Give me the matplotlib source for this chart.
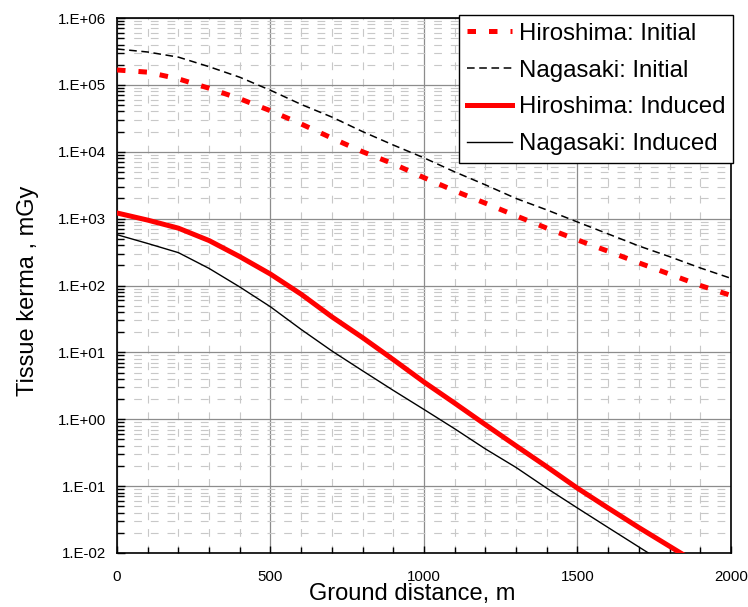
import matplotlib
matplotlib.use("Agg")
import math
import matplotlib.pyplot as plt
from matplotlib.ticker import LogLocator, MultipleLocator, FuncFormatter, NullFormatter

plt.rcParams['font.family'] = ['Liberation Sans', 'DejaVu Sans']

# ground distance, m
distance = [0, 100, 200, 300, 400, 500, 600, 700, 800, 900, 1000,
            1100, 1200, 1300, 1400, 1500, 1600, 1700, 1800, 1900, 2000]

# tissue kerma, mGy
hiroshima_initial = [1.67e5, 1.55e5, 1.23e5, 8.9e4, 6.2e4, 4.1e4, 2.6e4, 1.6e4, 1.0e4, 6.6e3, 4.1e3,
                     2.6e3, 1.7e3, 1.1e3, 720, 480, 325, 218, 148, 100, 71]
nagasaki_initial = [3.44e5, 3.1e5, 2.6e5, 1.87e5, 1.3e5, 8.3e4, 5.1e4, 3.3e4, 2.0e4, 1.26e4, 8.1e3,
                    5.0e3, 3.2e3, 2.0e3, 1.35e3, 890, 590, 390, 270, 183, 128]
hiroshima_induced = [1215, 950, 720, 470, 270, 148, 74, 34, 16.6, 7.8, 3.6,
                     1.74, 0.83, 0.40, 0.195, 0.093, 0.047, 0.024, 0.0126, 0.0066, 0.0035]
nagasaki_induced = [575, 425, 310, 180, 95, 48, 22, 10.5, 5.3, 2.7, 1.4,
                    0.72, 0.36, 0.19, 0.093, 0.047, 0.024, 0.0123, 0.0063, 0.0032, 0.0016]

fig = plt.figure(figsize=(7.48, 6.07), dpi=100)
ax = fig.add_axes([117/748, 54/607, 614/748, 535/607])

ax.plot(distance, hiroshima_initial, color='red', lw=3.6, linestyle=(0, (1.7, 2.6)),
        label="Hiroshima: Initial", zorder=4)
ax.plot(distance, nagasaki_initial, color='black', lw=1.1, linestyle=(0, (5, 3)),
        label="Nagasaki: Initial", zorder=4)
ax.plot(distance, hiroshima_induced, color='red', lw=3.6, label="Hiroshima: Induced", zorder=4)
ax.plot(distance, nagasaki_induced, color='black', lw=1.0, label="Nagasaki: Induced", zorder=4)

ax.set_yscale('log')
ax.set_xlim(0, 2000)
ax.set_ylim(1e-2, 1e6)

ax.xaxis.set_major_locator(MultipleLocator(500))
ax.xaxis.set_minor_locator(MultipleLocator(100))
ax.yaxis.set_major_locator(LogLocator(base=10, numticks=20))
ax.yaxis.set_minor_locator(LogLocator(base=10, subs=range(2, 10), numticks=100))
ax.yaxis.set_minor_formatter(NullFormatter())

def fmt_exp(v, pos):
    e = int(round(math.log10(v)))
    return "1.E%+03d" % e

ax.yaxis.set_major_formatter(FuncFormatter(fmt_exp))

ax.grid(which='major', color='#8c8c8c', lw=0.9, linestyle='-')
ax.grid(which='minor', color='#c8c8c8', lw=0.8, linestyle=(0, (7, 8)))
ax.set_axisbelow(True)

ax.tick_params(which='both', direction='in', labelsize=10.8, top=False, right=False)
ax.tick_params(axis='y', which='major', length=6, width=1, pad=8)
ax.tick_params(axis='y', which='minor', length=5, width=1)
ax.tick_params(axis='x', which='major', length=5, width=1, pad=12)
ax.tick_params(axis='x', which='minor', length=4, width=1)

for s in ax.spines.values():
    s.set_linewidth(1.2)
    s.set_color('black')

ax.set_xlabel("Ground distance, m", fontsize=17)
ax.xaxis.set_label_coords(0.480, -0.056)
ax.set_ylabel("Tissue kerma , mGy", fontsize=17)
ax.yaxis.set_label_coords(-0.127, 0.49)

leg = ax.legend(loc='upper right', bbox_to_anchor=(733/748, 1 - 15/607),
                bbox_transform=fig.transFigure, borderaxespad=0, fontsize=17.3,
                fancybox=False, framealpha=1, edgecolor='black',
                handlelength=1.85, handletextpad=0.3, labelspacing=0.62,
                borderpad=0.32)
leg.get_frame().set_linewidth(1.0)
leg.set_zorder(10)

fig.savefig("out.png", dpi=100)
